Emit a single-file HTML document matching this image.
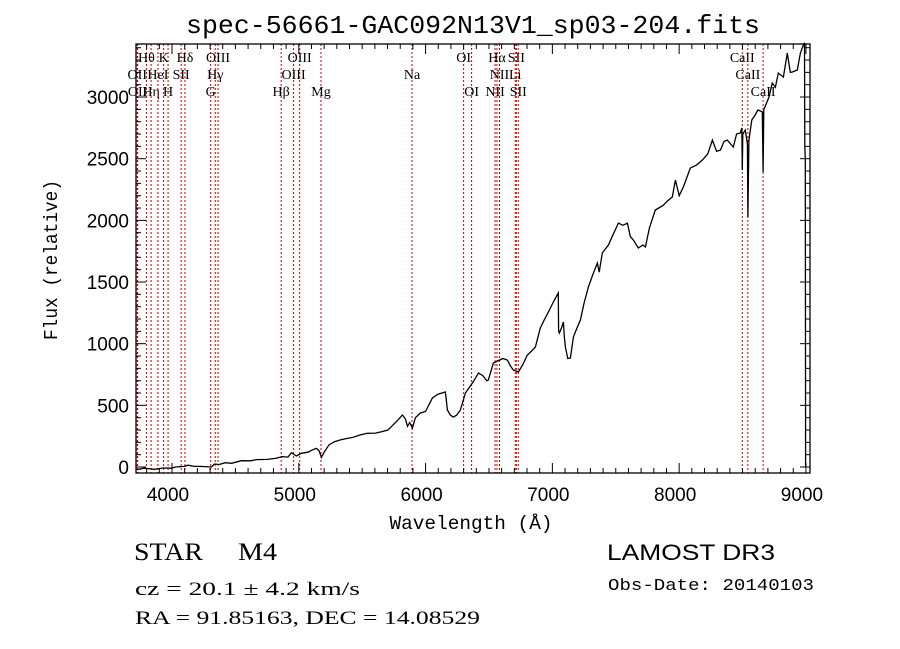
<!DOCTYPE html>
<html><head><meta charset="utf-8"><style>
html,body{margin:0;padding:0;background:#fff;}
svg{display:block;}
</style></head><body>
<svg id="chart" width="900" height="649" viewBox="0 0 900 649" xmlns="http://www.w3.org/2000/svg">
<rect x="0" y="0" width="900" height="649" fill="#fff"/>
<text x="473" y="33" font-family="Liberation Mono, monospace" font-size="26" text-anchor="middle" textLength="574" lengthAdjust="spacingAndGlyphs">spec-56661-GAC092N13V1_sp03-204.fits</text>
<g id="lines"></g>
<g id="spec"></g>
<g id="axes"></g>
<text x="471" y="529" font-family="Liberation Mono, monospace" font-size="19" text-anchor="middle" textLength="163" lengthAdjust="spacingAndGlyphs">Wavelength (Å)</text>
<text transform="translate(57,260) rotate(-90)" font-family="Liberation Mono, monospace" font-size="19" text-anchor="middle" textLength="160" lengthAdjust="spacingAndGlyphs">Flux (relative)</text>
<text x="134" y="560" font-family="Liberation Serif, serif" font-size="25" textLength="69" lengthAdjust="spacingAndGlyphs">STAR</text>
<text x="238" y="560" font-family="Liberation Serif, serif" font-size="25" textLength="39" lengthAdjust="spacingAndGlyphs">M4</text>
<text x="135" y="595" font-family="Liberation Serif, serif" font-size="19" textLength="225" lengthAdjust="spacingAndGlyphs">cz = 20.1 ± 4.2 km/s</text>
<text x="135" y="624" font-family="Liberation Serif, serif" font-size="19" textLength="345" lengthAdjust="spacingAndGlyphs">RA =  91.85163, DEC =  14.08529</text>
<text x="607" y="560" font-family="Liberation Sans, sans-serif" font-size="22" textLength="168" lengthAdjust="spacingAndGlyphs">LAMOST DR3</text>
<text x="608" y="590" font-family="Liberation Mono, monospace" font-size="17" textLength="206" lengthAdjust="spacingAndGlyphs">Obs-Date: 20140103</text>
</svg>
<script>
const wavelengths = [3721,3727,3780,3830,3861,3928,3995,4027,4098,4126,4175,4224,4311,4334,4372,4421,4469,4547,4618,4668,4752,4816,4871,4914,4942,4981,5021,5072,5111,5139,5161,5178,5202,5239,5281,5328,5383,5427,5486,5541,5604,5652,5703,5730,5782,5817,5841,5857,5875,5896,5920,5959,5999,6054,6097,6156,6172,6196,6219,6245,6275,6314,6369,6393,6417,6452,6482,6495,6535,6570,6610,6645,6669,6693,6732,6767,6803,6836,6866,6905,6935,6969,7014,7047,7049,7055,7073,7087,7095,7103,7122,7142,7166,7191,7221,7250,7284,7319,7355,7369,7394,7442,7477,7521,7556,7592,7615,7639,7678,7714,7734,7765,7812,7872,7911,7946,7970,8000,8033,8088,8138,8183,8226,8262,8295,8325,8354,8380,8427,8453,8482,8494,8498,8502,8522,8538,8542,8550,8573,8597,8621,8656,8662,8668,8676,8709,8735,8759,8782,8822,8853,8877,8893,8932,8956,8980,8989,8991,8995,8997];
const fluxes = [-15,-20,-10,-15,-19,-8,-10,0,5,15,5,5,0,24,20,35,30,51,50,60,62,70,84,80,116,89,111,120,140,151,130,78,124,180,205,220,232,240,260,273,275,286,300,327,380,422,390,330,360,316,400,438,450,560,590,608,462,420,405,420,462,600,681,720,762,740,700,705,843,860,880,867,820,786,770,830,908,940,973,1127,1190,1257,1350,1411,1100,1086,1130,1176,1050,973,880,884,1054,1120,1192,1330,1460,1560,1654,1580,1735,1800,1880,1978,1960,1978,1870,1840,1776,1800,1784,1938,2084,2120,2160,2189,2327,2200,2270,2424,2450,2489,2540,2651,2560,2570,2640,2651,2595,2700,2708,2750,2408,2700,2732,2620,2027,2650,2814,2850,2895,2880,2392,2900,2919,3000,3114,3080,3195,3162,3357,3200,3203,3219,3357,3422,3440,2600,2500,0];
const lineWaves = [3726,3729,3798,3835,3889,3934,3969,4072,4102,4305,4341,4363,4861,4959,5007,5175,5893,6300,6363,6548,6563,6583,6707,6716,6731,8498,8542,8662];
const lineNames = ["OII","OII","Hθ","Hη","HeI","K","H","SII","Hδ","G","Hγ","OIII","Hβ","OIII","OIII","Mg","Na","OI","OI","NII","Hα","NII","Li","SII","SII","CaII","CaII","CaII"];
const lineRows = [2,3,1,3,2,1,3,2,1,3,2,1,3,2,1,3,2,1,3,3,1,2,2,1,3,1,2,3];
const xTickLabels = ["4000","5000","6000","7000","8000","9000"];
const yTickLabels = ["0","500","1000","1500","2000","2500","3000"];

const L=136,R=810,T=44,B=473;
const xMin=3716, xMax=9032, yMin=-48.6, yMax=3430;
function xs(w){return L+(w-xMin)/(xMax-xMin)*(R-L);}
function ys(f){return B-(f-yMin)/(yMax-yMin)*(B-T);}
const NS="http://www.w3.org/2000/svg";
function mk(tag,attrs,parent){const e=document.createElementNS(NS,tag);for(const k in attrs)e.setAttribute(k,attrs[k]);parent.appendChild(e);return e;}

const lg=document.getElementById('lines');
lineWaves.forEach((w,i)=>{
  const x=xs(w);
  const ln=mk('line',{x1:x,x2:x,y1:T,y2:B,stroke:'#c00000','stroke-width':1,'stroke-dasharray':'2,2'},lg);
  
  
  const t=mk('text',{x:x,y:[0,62,79,96][lineRows[i]],'font-family':'Liberation Serif, DejaVu Serif, serif','font-size':14,'text-anchor':'middle'},lg);
  t.textContent=lineNames[i];
  
  
});

const sg=document.getElementById('spec');
const pts=wavelengths.map((w,i)=>xs(w).toFixed(1)+','+ys(fluxes[i]).toFixed(1)).join(' ');
const pl=mk('polyline',{points:pts,fill:'none',stroke:'#000','stroke-width':1.3,'stroke-linejoin':'miter'},sg);



const ag=document.getElementById('axes');
const fr=mk('rect',{x:L,y:T,width:R-L,height:B-T,fill:'none',stroke:'#000','stroke-width':1.3},ag);


for(let w=3800;w<=9000;w+=100){
  const x=xs(w), major=(w%1000===0), len=major?10:5;
  mk('line',{x1:x,x2:x,y1:B,y2:B-len,stroke:'#000','stroke-width':1},ag);
  mk('line',{x1:x,x2:x,y1:T,y2:T+len,stroke:'#000','stroke-width':1},ag);
}
xTickLabels.forEach(s=>{
  const t=mk('text',{x:xs(+s)-4,y:B+28,'font-family':'Liberation Sans, sans-serif','font-size':19,'text-anchor':'middle'},ag);
  t.textContent=s;
  
  
});
for(let f=0;f<=3400;f+=100){
  const y=ys(f), major=(f%500===0), len=major?10:5;
  mk('line',{x1:L,x2:L+len,y1:y,y2:y,stroke:'#000','stroke-width':1},ag);
  mk('line',{x1:R,x2:R-len,y1:y,y2:y,stroke:'#000','stroke-width':1},ag);
}
yTickLabels.forEach(s=>{
  const t=mk('text',{x:L-7,y:ys(+s)+7,'font-family':'Liberation Sans, sans-serif','font-size':19,'text-anchor':'end'},ag);
  t.textContent=s;
  
  
});
</script>
</body></html>
